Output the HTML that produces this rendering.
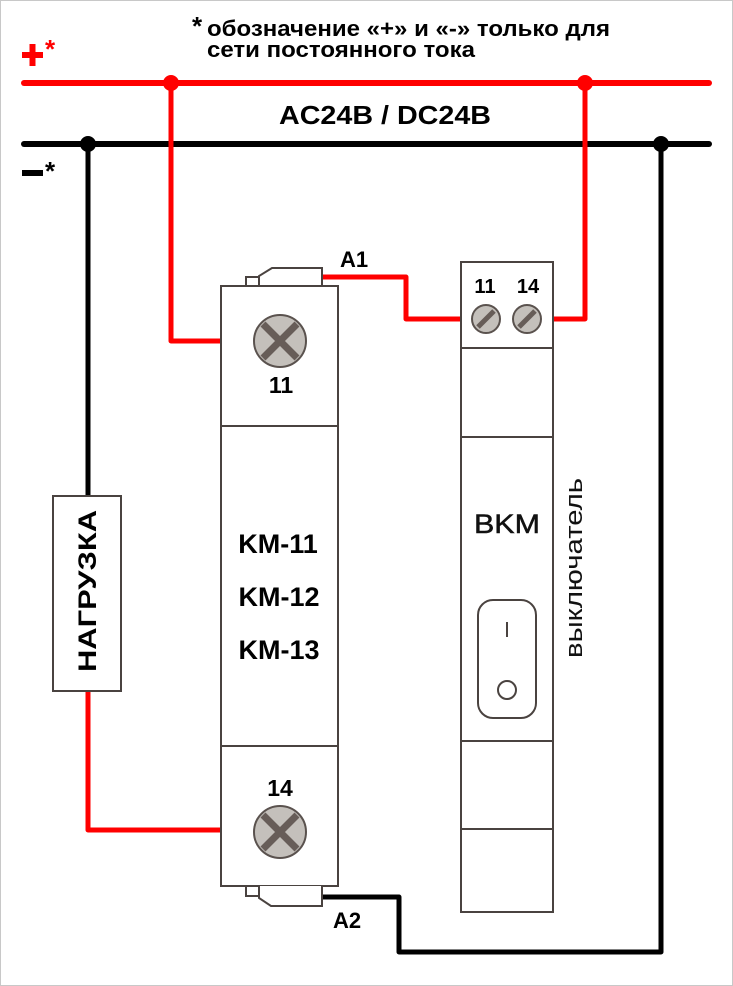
<!DOCTYPE html>
<html><head><meta charset="utf-8"><style>
html,body{margin:0;padding:0;background:#fff}
svg{display:block}
text{font-family:"Liberation Sans",sans-serif}
</style></head><body>
<svg width="733" height="986" viewBox="0 0 733 986" xmlns="http://www.w3.org/2000/svg">
<rect x="0.5" y="0.5" width="732" height="985" fill="#fff" stroke="#c8c8c8"/>
<!-- header text -->
<text x="192" y="35" font-size="26" font-weight="bold">*</text>
<text x="207" y="36" font-size="22" font-weight="bold" textLength="403" lengthAdjust="spacingAndGlyphs">обозначение «+» и «-» только для</text>
<text x="207" y="57" font-size="22" font-weight="bold" textLength="268" lengthAdjust="spacingAndGlyphs">сети постоянного тока</text>
<text x="279" y="124" font-size="26" font-weight="bold" textLength="212" lengthAdjust="spacingAndGlyphs">AC24B / DC24B</text>
<!-- + and - -->
<rect x="22" y="52" width="21" height="6" fill="#f00"/>
<rect x="29.5" y="44" width="6" height="22" fill="#f00"/>
<text x="45" y="58" font-size="26" font-weight="bold" fill="#f00">*</text>
<rect x="22" y="170" width="21" height="6" fill="#000"/>
<text x="45" y="180" font-size="26" font-weight="bold">*</text>
<!-- wires -->
<g fill="none" stroke-linecap="round" stroke-linejoin="round">
<line x1="24" y1="83" x2="709" y2="83" stroke="#f00" stroke-width="6"/>
<line x1="24" y1="144" x2="709" y2="144" stroke="#000" stroke-width="6"/>
<polyline points="171,83 171,341 256,341" stroke="#f00" stroke-width="5"/>
<polyline points="321,277 406,277 406,319 476,319" stroke="#f00" stroke-width="5"/>
<polyline points="541,319 585,319 585,83" stroke="#f00" stroke-width="5"/>
<polyline points="88,144 88,496" stroke="#000" stroke-width="5"/>
<polyline points="88,691 88,830 256,830" stroke="#f00" stroke-width="5"/>
<polyline points="321,897 399,897 399,952 661,952 661,144" stroke="#000" stroke-width="5"/>
</g>
<circle cx="171" cy="83" r="8" fill="#f00"/>
<circle cx="585" cy="83" r="8" fill="#f00"/>
<circle cx="88" cy="144" r="8" fill="#000"/>
<circle cx="661" cy="144" r="8" fill="#000"/>
<!-- contactor -->
<g stroke="#4a4340" stroke-width="2" fill="#fff">
<rect x="246" y="277" width="13" height="9"/>
<path d="M259 286 L259 276 L272 268 L322 268 L322 286"/>
<rect x="221" y="286" width="117" height="600"/>
<line x1="221" y1="426" x2="338" y2="426"/>
<line x1="221" y1="746" x2="338" y2="746"/>
<rect x="246" y="886" width="13" height="10"/>
<path d="M259 886 L259 898 L271 906 L322 906 L322 886"/>
</g>
<g>
<circle cx="280" cy="341" r="26" fill="#c4c0bb" stroke="#5a524e" stroke-width="2"/>
<path d="M263 324 L297 358 M297 324 L263 358" stroke="#675d58" stroke-width="7"/>
<circle cx="280" cy="832" r="26" fill="#c4c0bb" stroke="#5a524e" stroke-width="2"/>
<path d="M263 815 L297 849 M297 815 L263 849" stroke="#675d58" stroke-width="7"/>
</g>
<text x="281" y="393" font-size="23" font-weight="bold" text-anchor="middle">11</text>
<text x="280" y="796" font-size="23" font-weight="bold" text-anchor="middle">14</text>
<text x="278" y="553" font-size="27" font-weight="bold" text-anchor="middle">KM-11</text>
<text x="279" y="606" font-size="27" font-weight="bold" text-anchor="middle">KM-12</text>
<text x="279" y="659" font-size="27" font-weight="bold" text-anchor="middle">KM-13</text>
<text x="354" y="267" font-size="22" font-weight="bold" text-anchor="middle">A1</text>
<text x="347" y="928" font-size="22" font-weight="bold" text-anchor="middle">A2</text>
<!-- switch -->
<g stroke="#4a4340" stroke-width="2" fill="#fff">
<rect x="461" y="262" width="92" height="650"/>
<line x1="461" y1="348" x2="553" y2="348"/>
<line x1="461" y1="437" x2="553" y2="437"/>
<line x1="461" y1="741" x2="553" y2="741"/>
<line x1="461" y1="829" x2="553" y2="829"/>
<rect x="478" y="600" width="58" height="118" rx="15"/>
<circle cx="507" cy="690" r="9"/>
<line x1="507" y1="622" x2="507" y2="637"/>
</g>
<g stroke="#5a524e" stroke-width="2" fill="#c4c0bb">
<circle cx="486" cy="319" r="14"/>
<circle cx="527" cy="319" r="14"/>
</g>
<path d="M478 327 L494 311 M519 327 L535 311" stroke="#675d58" stroke-width="5"/>
<text x="485" y="293" font-size="20" font-weight="bold" text-anchor="middle">11</text>
<text x="528" y="293" font-size="20" font-weight="bold" text-anchor="middle">14</text>
<text x="507" y="533" font-size="27" text-anchor="middle" fill="#111" textLength="66" lengthAdjust="spacingAndGlyphs" stroke="#111" stroke-width="0.5">BKM</text>
<text transform="translate(582,568) rotate(-90)" font-size="24" text-anchor="middle" fill="#111" textLength="180" lengthAdjust="spacingAndGlyphs">выключатель</text>
<!-- load -->
<rect x="53" y="496" width="68" height="195" fill="#fff" stroke="#4a4340" stroke-width="2"/>
<text transform="translate(96,591) rotate(-90)" font-size="25" font-weight="bold" text-anchor="middle" textLength="162" lengthAdjust="spacingAndGlyphs">НАГРУЗКА</text>
</svg>
</body></html>
